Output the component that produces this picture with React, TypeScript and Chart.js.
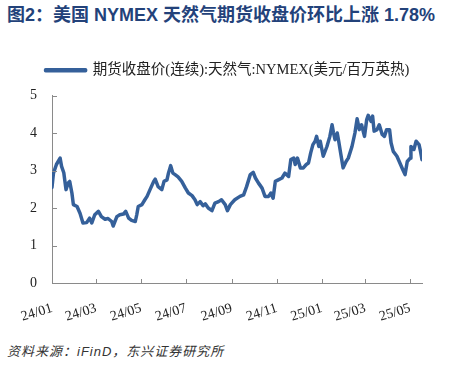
import React, { useEffect, useRef } from "react";
import { Chart, registerables } from "chart.js";

Chart.register(...registerables);

// Days since 2024-01-01
const dayOffsets = [
  0, 2, 6, 11, 13, 16, 19, 22, 24, 27, 29, 34, 38, 42, 47, 51, 54, 58, 63, 67,
  72, 76, 81, 83, 88, 92, 97, 100, 104, 108, 113, 115, 117, 122, 126, 129, 133,
  138, 140, 144, 149, 152, 156, 158, 161, 164, 167, 171, 176, 181, 185, 190, 194,
  197, 201, 205, 208, 212, 217, 221, 226, 230, 235, 238, 242, 248, 255, 260, 264,
  269, 273, 276, 280, 285, 289, 294, 297, 300, 303, 307, 312, 316, 321, 324, 328,
  330, 333, 337, 341, 345, 348, 351, 354, 357, 359, 362, 364, 368, 373, 377, 380,
  382, 384, 387, 389, 392, 395, 399, 402, 407, 411, 414, 417, 420, 424, 427, 429,
  433, 435, 437, 441, 444, 448, 451, 454, 458, 460, 463, 468, 472, 476, 479, 482,
  486, 487, 491, 494, 498, 500, 502,
];

// 期货收盘价(连续):天然气:NYMEX (美元/百万英热)
const prices = [
  2.55, 2.93, 3.16, 3.33, 3.11, 2.94, 2.49, 2.67, 2.71, 2.4, 2.09, 2.04, 1.86, 1.6,
  1.61, 1.73, 1.6, 1.82, 1.91, 1.77, 1.7, 1.72, 1.64, 1.52, 1.77, 1.82, 1.84, 1.91,
  1.73, 1.67, 1.64, 1.82, 2.04, 2.09, 2.22, 2.31, 2.49, 2.71, 2.77, 2.57, 2.49,
  2.71, 2.75, 2.93, 3.13, 2.93, 2.89, 2.83, 2.71, 2.53, 2.4, 2.33, 2.22, 2.09, 2.17,
  2.06, 2.11, 2.0, 1.93, 2.13, 2.17, 2.22, 2.09, 1.93, 2.09, 2.22, 2.31, 2.35, 2.57,
  2.89, 2.95, 2.8, 2.67, 2.53, 2.31, 2.31, 2.4, 2.26, 2.71, 2.75, 2.8, 2.93, 2.84,
  3.29, 3.33, 3.16, 3.33, 3.07, 3.07, 3.16, 3.2, 3.47, 3.69, 3.78, 3.91, 3.64, 3.78,
  3.38, 3.64, 3.91, 4.22, 4.0, 3.82, 4.0, 3.78, 3.42, 3.07, 3.24, 3.33, 3.64, 4.0,
  4.38, 4.09, 4.22, 3.91, 4.36, 4.47, 4.31, 4.45, 4.05, 4.09, 4.22, 3.96, 3.91,
  4.09, 4.09, 3.74, 3.51, 3.38, 3.2, 3.02, 2.89, 3.24, 3.33, 3.64, 3.56, 3.78, 3.69,
  3.51, 3.29,
];

const monthTickDays = [0, 60, 121, 182, 244, 305, 366, 425, 486];
const monthTickLabels = ["24/01", "24/03", "24/05", "24/07", "24/09", "24/11", "25/01", "25/03", "25/05"];
const yTickValues = [0, 1, 2, 3, 4, 5];

const seriesName = "期货收盘价(连续):天然气:NYMEX(美元/百万英热)";
const titleText = "图2：美国 NYMEX 天然气期货收盘价环比上涨 1.78%";
const sourceText = "资料来源：iFinD，东兴证券研究所";

const LINE_COLOR = "#35609A";
const AXIS_COLOR = "#8a8a8a";

const innerTicks = {
  id: "innerTicks",
  afterDraw(chart: any) {
    const { ctx, scales } = chart;
    const x = scales.x;
    const y = scales.y;
    ctx.save();
    ctx.strokeStyle = AXIS_COLOR;
    ctx.lineWidth = 1;
    ctx.beginPath();
    monthTickDays.forEach((d) => {
      if (d === 0) return;
      const px = Math.round(x.getPixelForValue(d)) + 0.5;
      ctx.moveTo(px, y.bottom);
      ctx.lineTo(px, y.bottom - 4);
    });
    yTickValues.forEach((v) => {
      if (v === 0) return;
      const py = Math.round(y.getPixelForValue(v)) + 0.5;
      ctx.moveTo(x.left, py);
      ctx.lineTo(x.left + 5, py);
    });
    ctx.stroke();
    ctx.restore();
  },
};

// lift the legend a little and centre it on the canvas
const legendShift = {
  id: "legendShift",
  afterLayout(chart: any) {
    const l = chart.legend;
    if (l) {
      const dx = (chart.width - (l.left + l.right)) / 2;
      l.top -= 8;
      l.bottom -= 8;
      l.left += dx;
      l.right += dx;
    }
  },
};

export default function App() {
  const canvasRef = useRef<HTMLCanvasElement | null>(null);

  useEffect(() => {
    if (!canvasRef.current) return;
    const serif = "'Liberation Serif', 'Noto Sans CJK SC', serif";
    const chart = new Chart(canvasRef.current, {
      type: "line",
      data: {
        datasets: [
          {
            label: seriesName,
            data: dayOffsets.map((d, i) => ({ x: d, y: prices[i] })),
            borderColor: LINE_COLOR,
            backgroundColor: LINE_COLOR,
            borderWidth: 3.5,
            pointRadius: 0,
            tension: 0,
            borderJoinStyle: "round",
            borderCapStyle: "round",
          },
        ],
      },
      options: {
        responsive: false,
        animation: false,
        devicePixelRatio: 1,
        layout: { padding: { top: 14, right: 33, left: 0, bottom: 0 } },
        plugins: {
          legend: {
            display: true,
            position: "top",
            labels: {
              boxWidth: 40,
              boxHeight: 1,
              padding: 17,
              color: "#222",
              font: { family: serif, size: 14.5 },
            },
          },
          tooltip: { enabled: false },
        },
        scales: {
          x: {
            type: "linear",
            min: 0,
            max: dayOffsets[dayOffsets.length - 1],
            grid: { display: false, drawTicks: false },
            border: { display: true, color: AXIS_COLOR, width: 1 },
            afterBuildTicks: (scale: any) => {
              scale.ticks = monthTickDays.map((v) => ({ value: v }));
            },
            afterFit: (scale: any) => {
              scale.height = 57;
            },
            ticks: {
              autoSkip: false,
              minRotation: 17,
              maxRotation: 17,
              padding: 17,
              color: "#222",
              font: { family: serif, size: 14 },
              callback: (value: any) => {
                const idx = monthTickDays.indexOf(Number(value));
                return idx >= 0 ? monthTickLabels[idx] : "";
              },
            },
          },
          y: {
            min: 0,
            max: 5,
            grid: { display: false, drawTicks: false },
            border: { display: true, color: AXIS_COLOR, width: 1 },
            afterBuildTicks: (scale: any) => {
              scale.ticks = yTickValues.map((v) => ({ value: v }));
            },
            afterFit: (scale: any) => {
              scale.width = 52;
            },
            ticks: {
              padding: 15,
              color: "#222",
              font: { family: serif, size: 14 },
            },
          },
        },
      },
      plugins: [innerTicks, legendShift],
    } as any);
    return () => chart.destroy();
  }, []);

  return (
    <div
      style={{
        position: "fixed",
        left: 0,
        top: 0,
        width: 455,
        height: 369,
        background: "#fff",
        overflow: "hidden",
      }}
    >
      <div
        style={{
          position: "absolute",
          left: 7,
          top: 5,
          fontFamily: "'Liberation Sans', 'Noto Sans CJK SC', sans-serif",
          fontWeight: 700,
          fontSize: 18,
          lineHeight: "20px",
          color: "#23427A",
          whiteSpace: "nowrap",
        }}
      >
        {titleText}
      </div>
      <canvas
        ref={canvasRef}
        width={455}
        height={300}
        style={{ position: "absolute", left: 0, top: 40, width: 455, height: 300 }}
      />
      <div
        style={{
          position: "absolute",
          left: 7,
          top: 344,
          fontFamily: "'Liberation Sans', 'Noto Sans CJK SC', sans-serif",
          fontStyle: "italic",
          fontSize: 13,
          letterSpacing: "1px",
          lineHeight: "16px",
          color: "#333",
          whiteSpace: "nowrap",
        }}
      >
        {sourceText}
      </div>
    </div>
  );
}
